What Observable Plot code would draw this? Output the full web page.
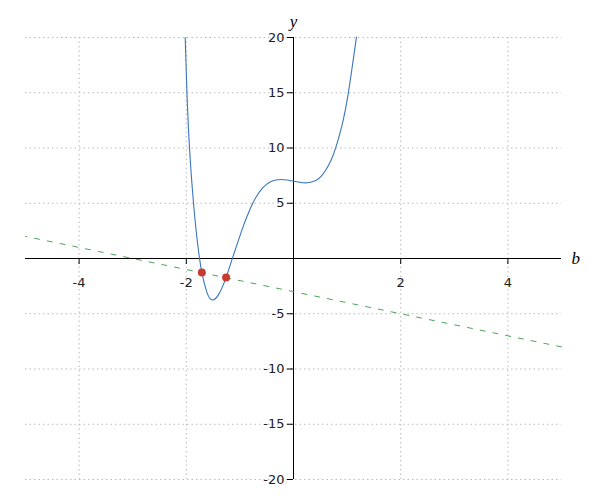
<!DOCTYPE html>
<html>
<head>
<meta charset="utf-8">
<script src="https://cdn.jsdelivr.net/npm/d3@7"></script>
<script src="https://cdn.jsdelivr.net/npm/@observablehq/plot@0.6"></script>
<style>
  html, body { margin: 0; padding: 0; background: #fff; }
  #chart { width: 600px; height: 500px; }
</style>
</head>
<body>
<div id="chart"></div>
<script>
// Curve points
const curveX = [-2.021, -1.985, -1.935, -1.89, -1.85, -1.80, -1.756, -1.71, -1.61, -1.51, -1.39, -1.257, -1.14, -0.96, -0.86, -0.76, -0.685, -0.61, -0.515, -0.42, -0.33, -0.237, -0.12, 0, 0.13, 0.26, 0.416, 0.51, 0.6, 0.7, 0.79, 0.9, 1.02, 1.175];
const curveY = [20, 14.6, 9.6, 6.47, 4.16, 1.79, 0.12, -1.26, -3.13, -3.75, -3.2, -1.71, 0.01, 2.61, 3.89, 4.99, 5.66, 6.19, 6.66, 6.96, 7.10, 7.15, 7.10, 6.99, 6.89, 6.85, 7.06, 7.41, 7.99, 8.89, 10.06, 11.96, 14.9, 20.05];
// Dashed straight line (endpoints)
const lineX = [5, -5];
const lineY = [-8, 2];
// Intersection points
const pointX = [-1.71, -1.257];
const pointY = [-1.27, -1.72];
// Ticks
const xTicks = [-4, -2, 2, 4];
const yTicks = [-20, -15, -10, -5, 5, 10, 15, 20];

const curve = curveX.map((x, i) => ({x, y: curveY[i]}));
const line = lineX.map((x, i) => ({x, y: lineY[i]}));
const points = pointX.map((x, i) => ({x, y: pointY[i]}));

const W = 600, H = 500;
const mL = 25, mR = 39, mT = 37, mB = 21;
const plotW = W - mL - mR, plotH = H - mT - mB;

const chart = Plot.plot({
  width: W, height: H,
  marginLeft: mL, marginRight: mR, marginTop: mT, marginBottom: mB,
  style: {fontFamily: "DejaVu Sans", fontSize: "13px", background: "#fff", overflow: "visible"},
  x: {domain: [-5, 5], axis: null},
  y: {domain: [-20, 20], axis: null},
  marks: [
    Plot.ruleY(yTicks, {stroke: "#bbb", strokeDasharray: "1.5,3"}),
    Plot.ruleX(xTicks, {stroke: "#bbb", strokeDasharray: "1.5,3"}),
    Plot.ruleY([0], {stroke: "#000", strokeWidth: 1}),
    Plot.ruleX([0], {stroke: "#000", strokeWidth: 1}),
    Plot.axisX({ticks: xTicks, anchor: "bottom", dy: -plotH / 2, tickSize: 6, tickPadding: 13, label: null,
      tickFormat: d => String(d), fontSize: 13, fill: "#222", stroke: "#000"}),
    Plot.axisY({ticks: yTicks, anchor: "left", dx: plotW / 2, tickSize: 6, tickPadding: 3, label: null,
      tickFormat: d => String(d), fontSize: 13, fill: "#222", stroke: "#000"}),
    Plot.line(line, {x: "x", y: "y", stroke: "#4fa35a", strokeWidth: 1, strokeDasharray: "5,8"}),
    Plot.line(curve, {x: "x", y: "y", stroke: "#3a76c0", strokeWidth: 1.1, curve: "natural"}),
    Plot.dot(points, {x: "x", y: "y", r: 4, fill: "#c83b31", stroke: "none"}),
    Plot.text([{x: 0, y: 20}], {x: "x", y: "y", text: () => "y", dy: -16, dx: 0,
      fontFamily: "Liberation Serif", fontStyle: "italic", fontSize: 17, fill: "#000"}),
    Plot.text([{x: 5, y: 0}], {x: "x", y: "y", text: () => "b", dx: 10, textAnchor: "start",
      fontFamily: "Liberation Serif", fontStyle: "italic", fontSize: 17, fill: "#000"})
  ]
});
document.getElementById("chart").appendChild(chart);
</script>
</body>
</html>
